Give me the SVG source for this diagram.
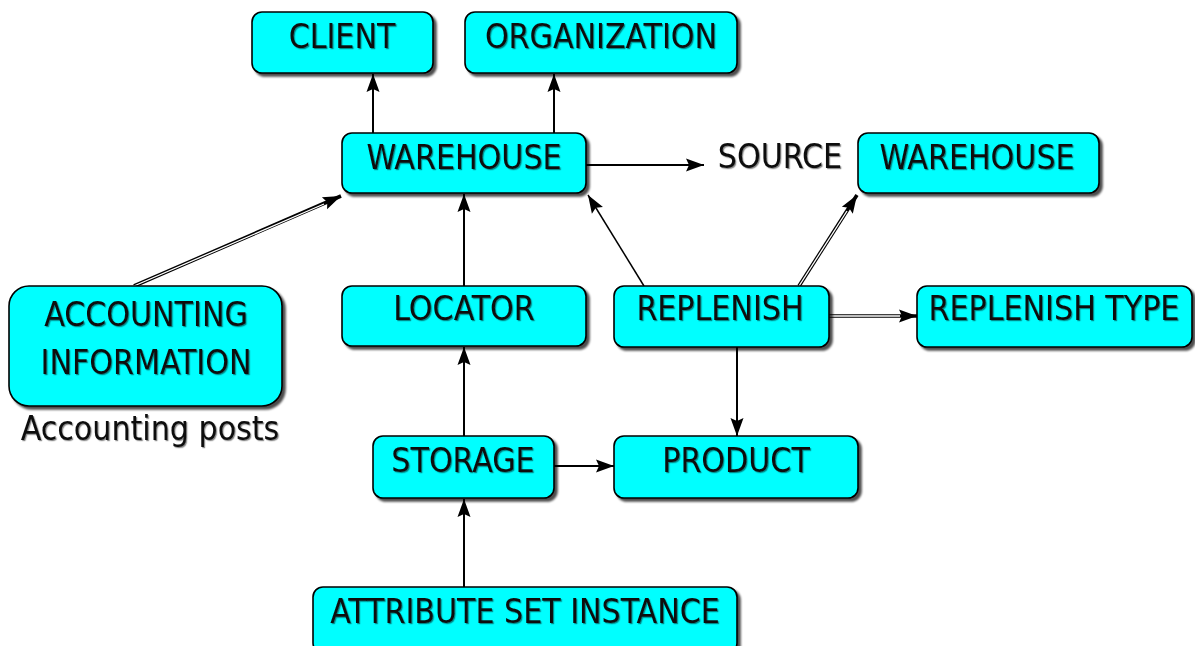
<svg xmlns="http://www.w3.org/2000/svg" width="1195" height="646" viewBox="0 0 1195 646">
  <defs>
    <style>
      .box { fill: #00ffff; stroke: #000; stroke-width: 1.6; filter: url(#boxShadow); }
      .lbl { font-family: "DejaVu Sans Condensed", "DejaVu Sans", sans-serif; font-stretch: condensed; font-size: 33.5px; fill: #111; text-anchor: middle; filter: url(#textShadow); }
      .edge { fill: none; stroke: #000; stroke-width: 2; marker-end: url(#head); }
      .thin { fill: none; stroke: #000; stroke-width: 1.5; marker-end: url(#head); }
      .dbl { fill: none; stroke: #000; stroke-width: 3.6; marker-end: url(#head); }
      .dbl-core { fill: none; stroke: #fff; stroke-width: 1.3; }
    </style>
    <filter id="boxShadow" x="-10%" y="-10%" width="120%" height="130%">
      <feDropShadow dx="3" dy="3" stdDeviation="0.8" flood-color="#000" flood-opacity="0.7"/>
    </filter>
    <filter id="textShadow" x="-5%" y="-20%" width="110%" height="140%">
      <feDropShadow dx="1.2" dy="1.2" stdDeviation="0.7" flood-color="#000" flood-opacity="0.45"/>
    </filter>
    <!-- filled arrowhead, tip sits on the target border -->
    <marker id="head" markerUnits="userSpaceOnUse" markerWidth="22" markerHeight="16" refX="19" refY="8" orient="auto">
      <path d="M19,8 L1,1.5 L4,8 L1,14.5 Z" fill="#000"/>
    </marker>
  </defs>

  <!-- connectors -->
  <g id="connectors">
    <path class="edge" d="M373,133 L373,74"/>
    <path class="edge" d="M554,133 L554,74"/>
    <path class="edge" d="M586,165 L704,165"/>
    <path class="dbl" d="M134,286 L341,196"/>
    <path class="dbl-core" d="M134,286 L324,204"/>
    <path class="edge" d="M464,286 L464,194"/>
    <path class="thin" d="M644,286 L588,195"/>
    <path class="dbl" d="M799,286 L857,195"/>
    <path class="dbl-core" d="M799,286 L847,211"/>
    <path class="dbl" d="M829,316 L917,316"/>
    <path class="dbl-core" d="M829,316 L900,316"/>
    <path class="edge" d="M737,347 L737,436"/>
    <path class="edge" d="M464,436 L464,347"/>
    <path class="edge" d="M554,466 L614,466"/>
    <path class="edge" d="M464,588 L464,499"/>
  </g>

  <g id="client">
    <rect class="box" x="252" y="12" width="181" height="61" rx="10"/>
    <text class="lbl" x="342" y="48">CLIENT</text>
  </g>
  <g id="organization">
    <rect class="box" x="465" y="12" width="272" height="61" rx="10"/>
    <text class="lbl" x="601" y="48">ORGANIZATION</text>
  </g>
  <g id="warehouse">
    <rect class="box" x="342" y="133" width="244" height="60" rx="10"/>
    <text class="lbl" x="464" y="169">WAREHOUSE</text>
  </g>
  <g id="source-warehouse">
    <text class="lbl" x="780" y="168">SOURCE</text>
    <rect class="box" x="858" y="133" width="241" height="60" rx="10"/>
    <text class="lbl" x="977" y="169">WAREHOUSE</text>
  </g>
  <g id="accounting">
    <rect class="box" x="9" y="286" width="273" height="120" rx="20"/>
    <text class="lbl" x="146" y="326">ACCOUNTING</text>
    <text class="lbl" x="146" y="374">INFORMATION</text>
    <text class="lbl" x="150" y="440">Accounting posts</text>
  </g>
  <g id="locator">
    <rect class="box" x="342" y="286" width="244" height="60" rx="10"/>
    <text class="lbl" x="464" y="320">LOCATOR</text>
  </g>
  <g id="replenish">
    <rect class="box" x="614" y="286" width="215" height="61" rx="10"/>
    <text class="lbl" x="720" y="320">REPLENISH</text>
  </g>
  <g id="replenish-type">
    <rect class="box" x="917" y="286" width="275" height="61" rx="10"/>
    <text class="lbl" x="1054" y="320">REPLENISH TYPE</text>
  </g>
  <g id="storage">
    <rect class="box" x="373" y="436" width="181" height="62" rx="10"/>
    <text class="lbl" x="463" y="472">STORAGE</text>
  </g>
  <g id="product">
    <rect class="box" x="614" y="436" width="244" height="62" rx="10"/>
    <text class="lbl" x="736" y="472">PRODUCT</text>
  </g>
  <g id="attribute-set-instance">
    <rect class="box" x="313" y="587" width="424" height="66" rx="10"/>
    <text class="lbl" x="525" y="623">ATTRIBUTE SET INSTANCE</text>
  </g>
</svg>
